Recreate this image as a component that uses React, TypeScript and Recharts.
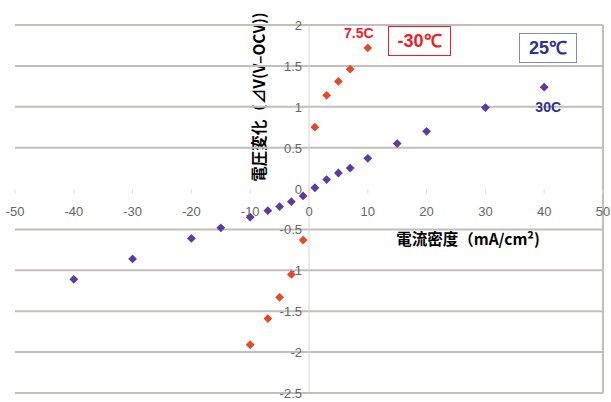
import React from 'react';
import {
  ScatterChart,
  Scatter,
  XAxis,
  YAxis,
  ReferenceLine,
  ReferenceDot,
} from 'recharts';

// 25℃ series
const density25 = [-40, -30, -20, -15, -10, -7, -5, -3, -1, 1, 3, 5, 7, 10, 15, 20, 30, 40];
const voltage25 = [-1.11, -0.86, -0.61, -0.48, -0.35, -0.27, -0.22, -0.16, -0.09, 0.01, 0.11, 0.19, 0.25, 0.37, 0.55, 0.7, 0.99, 1.24];

// -30℃ series
const densityM30 = [-10, -7, -5, -3, -1, 1, 3, 5, 7, 10];
const voltageM30 = [-1.91, -1.59, -1.33, -1.05, -0.63, 0.75, 1.14, 1.31, 1.46, 1.72];

const xTicks = [-50, -40, -30, -20, -10, 0, 10, 20, 30, 40, 50];
const yTicks = [2, 1.5, 1, 0.5, 0, -0.5, -1, -1.5, -2, -2.5];
const gridValues = [2, 1.5, 1, 0.5, -0.5, -1, -1.5, -2, -2.5];

const RED = '#e3492b';
const BLUE = '#5b3c9c';
const GRID = '#c2beba';
const TICK_FONT = '"Liberation Sans Narrow", "Liberation Sans", Arial, sans-serif';
const CJK_FONT = '"Noto Sans CJK JP", "Liberation Sans", sans-serif';

const data25 = density25.map((x, i) => ({ x, y: voltage25[i] }));
const dataM30 = densityM30.map((x, i) => ({ x, y: voltageM30[i] }));

const diamond = (color: string) => (props: any) => {
  const { cx, cy } = props;
  const r = 4.4;
  return (
    <path
      d={`M${cx},${cy - r}L${cx + r},${cy}L${cx},${cy + r}L${cx - r},${cy}Z`}
      fill={color}
    />
  );
};

const XTickLabel = (label: string) => (props: any) => {
  const { cx, cy } = props;
  return (
    <g>
      <line x1={cx} x2={cx} y1={cy + 1} y2={cy + 5} stroke="#d8d8d8" />
      <text x={cx} y={cy + 27} textAnchor="middle" fontSize={13} fill="#666" fontFamily={TICK_FONT}>
        {label}
      </text>
    </g>
  );
};

const YTickLabel = (label: string) => (props: any) => {
  const { cx, cy } = props;
  return (
    <text x={cx - 7} y={cy + 5} textAnchor="end" fontSize={13} fill="#666" fontFamily={TICK_FONT}>
      {label}
    </text>
  );
};

const PointNote = (label: string, color: string, dx: number, dy: number) => (props: any) => {
  const { cx, cy } = props;
  return (
    <text x={cx + dx} y={cy + dy} textAnchor="middle" fontSize={14} fontWeight="bold" fill={color} fontFamily='"Liberation Sans", Arial, sans-serif'>
      {label}
    </text>
  );
};

const boxStyle = (color: string, border: string, left: number, top: number, width: number): React.CSSProperties => ({
  position: 'absolute',
  left,
  top,
  width,
  height: 30,
  border: `1.5px solid ${border}`,
  color,
  fontFamily: '"Liberation Sans", Arial, sans-serif',
  fontWeight: 'bold',
  fontSize: 18,
  lineHeight: '28px',
  textAlign: 'center',
  background: '#fff',
  boxSizing: 'border-box',
});

export default function App() {
  return (
    <div style={{ position: 'absolute', left: 0, top: 0, width: 611, height: 402, background: '#fff' }}>
      <ScatterChart width={611} height={402} margin={{ top: 25, right: 8, bottom: 9, left: 15 }}>
        <XAxis type="number" dataKey="x" domain={[-50, 50]} ticks={xTicks} hide />
        <YAxis type="number" dataKey="y" domain={[-2.5, 2]} ticks={yTicks} hide />
        {gridValues.map((v) => (
          <ReferenceLine key={`g${v}`} y={v} stroke={GRID} strokeWidth={2} />
        ))}
        <ReferenceLine x={50} stroke={GRID} strokeWidth={2} />
        <ReferenceLine x={0} stroke="#d4d4d4" strokeWidth={1} />
        {xTicks.map((v) => (
          <ReferenceDot key={`xt${v}`} x={v} y={0} r={0} shape={XTickLabel(String(v))} />
        ))}
        {yTicks.map((v) => (
          <ReferenceDot key={`yt${v}`} x={0} y={v} r={0} shape={YTickLabel(String(v))} />
        ))}
        <Scatter data={data25} shape={diamond(BLUE)} isAnimationActive={false} />
        <Scatter data={dataM30} shape={diamond(RED)} isAnimationActive={false} />
        <ReferenceDot x={10} y={1.72} r={0} shape={PointNote('7.5C', '#ee1c25', -9, -10)} />
        <ReferenceDot x={40} y={1.24} r={0} shape={PointNote('30C', '#2e3192', 4, 25)} />
        <text
          x={0}
          y={0}
          transform="translate(265, 97) rotate(-90)"
          textAnchor="middle"
          fontSize={15.5}
          fontWeight="bold"
          fill="#000"
          fontFamily={CJK_FONT}
        >
          電圧変化（⊿V(V–OCV))
        </text>
        <text x={468} y={245} textAnchor="middle" fontSize={15.5} fontWeight="bold" fill="#000" fontFamily={CJK_FONT}>
          電流密度（mA/cm²)
        </text>
      </ScatterChart>
      <div style={boxStyle('#ee1c25', '#ee1c25', 388, 26, 63)}>-30℃</div>
      <div style={boxStyle('#2e3192', '#7f8bb8', 519, 33, 58)}>25℃</div>
    </div>
  );
}
